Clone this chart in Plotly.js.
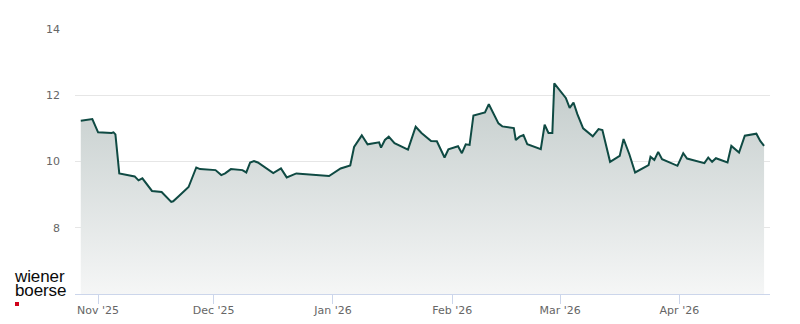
<!DOCTYPE html>
<html>
<head>
<meta charset="utf-8">
<script src="https://cdn.plot.ly/plotly-3.0.1.min.js"></script>
<style>
  html, body { margin: 0; padding: 0; background: #fff; }
  #wrap { position: relative; width: 800px; height: 324px; }
  #chart { width: 800px; height: 324px; }
  #logo { position: absolute; left: 15px; top: 270px; font-family: "Liberation Sans", Arial, sans-serif;
          font-size: 17px; line-height: 14px; color: #0a0a0a; letter-spacing: -0.1px; }
  #logo .sq { position: absolute; left: 0; top: 32px; width: 4px; height: 4px; background: #d0021b; }
</style>
</head>
<body>
<div id="wrap">
  <div id="chart"></div>
  <div id="logo">wiener<br>boerse<div class="sq"></div></div>
</div>
<script>
const dates = [
  "2025-10-27 12:00","2025-10-30 12:00","2025-11-01","2025-11-04 12:00","2025-11-05","2025-11-05 12:00",
  "2025-11-06 12:00","2025-11-10 12:00","2025-11-11 12:00","2025-11-12 12:00","2025-11-15","2025-11-17 12:00",
  "2025-11-20","2025-11-20 12:00","2025-11-22","2025-11-24 12:00","2025-11-26 12:00","2025-11-27 12:00",
  "2025-12-01 12:00","2025-12-03","2025-12-04","2025-12-05 12:00","2025-12-08 12:00","2025-12-09 12:00",
  "2025-12-10 12:00","2025-12-11 12:00","2025-12-12 12:00","2025-12-16 12:00","2025-12-18 12:00","2025-12-20",
  "2025-12-22 12:00","2025-12-31",
  "2026-01-03","2026-01-05 12:00","2026-01-06 12:00","2026-01-08 12:00","2026-01-10","2026-01-13",
  "2026-01-13 12:00","2026-01-14 12:00","2026-01-15 12:00","2026-01-17","2026-01-20 12:00","2026-01-22 12:00",
  "2026-01-24","2026-01-26 12:00","2026-01-28","2026-01-30","2026-01-31",
  "2026-02-02 12:00","2026-02-03 12:00","2026-02-04 12:00","2026-02-05 12:00","2026-02-06 12:00","2026-02-09 12:00",
  "2026-02-10 12:00","2026-02-13","2026-02-14","2026-02-17","2026-02-17 12:00","2026-02-18 12:00",
  "2026-02-19 12:00","2026-02-20 12:00","2026-02-24","2026-02-25","2026-02-26","2026-02-27","2026-02-27 12:00",
  "2026-03-02 12:00","2026-03-03 12:00","2026-03-04 12:00","2026-03-05 12:00","2026-03-07","2026-03-09 12:00",
  "2026-03-11","2026-03-12","2026-03-14","2026-03-16 12:00","2026-03-17 12:00","2026-03-19","2026-03-20 12:00",
  "2026-03-24","2026-03-24 12:00","2026-03-25 12:00","2026-03-26 12:00","2026-03-27 12:00","2026-03-31 12:00",
  "2026-04-02","2026-04-03","2026-04-07 12:00","2026-04-08 12:00","2026-04-09 12:00","2026-04-10 12:00",
  "2026-04-13 12:00","2026-04-14 12:00","2026-04-16 12:00","2026-04-18","2026-04-21","2026-04-22","2026-04-23"
];
const prices = [
  11.23,11.28,10.88,10.86,10.88,10.82,
  9.64,9.55,9.43,9.49,9.11,9.08,
  8.78,8.80,8.96,9.23,9.82,9.77,
  9.74,9.59,9.64,9.77,9.74,9.67,
  9.97,10.01,9.97,9.65,9.79,9.52,
  9.64,9.56,
  9.79,9.88,10.44,10.79,10.52,10.58,
  10.42,10.65,10.75,10.55,10.36,11.05,
  10.86,10.62,10.61,10.12,10.37,
  10.46,10.25,10.52,10.50,11.39,11.48,
  11.73,11.15,11.06,11.01,10.65,10.75,
  10.80,10.52,10.37,11.11,10.86,10.86,12.36,
  11.92,11.62,11.78,11.43,11.00,10.76,
  10.98,10.95,9.99,10.17,10.68,10.22,9.67,
  9.89,10.14,10.05,10.29,10.07,9.87,
  10.25,10.09,9.95,10.12,9.99,10.10,
  9.97,10.47,10.27,10.78,10.84,10.62,10.47
];
const yTicks = [8, 10, 12, 14];
const xRange = ["2025-10-26", "2026-04-24 13:00"];
const yRange = [6, 14];

const trace = {
  x: dates, y: prices, type: "scatter", mode: "lines",
  line: { color: "#0f4a43", width: 2, shape: "linear" },
  fill: "tozeroy",
  fillgradient: { type: "vertical", start: 6, stop: 12.4,
    colorscale: [[0, "#f5f6f6"], [1, "#c3cccb"]] },
  hoverinfo: "x+y"
};

const layout = {
  width: 800, height: 324,
  margin: { l: 75, r: 30, t: 29, b: 30 },
  paper_bgcolor: "#fff", plot_bgcolor: "#fff",
  showlegend: false,
  font: { family: "DejaVu Sans, sans-serif", size: 11, color: "#666666" },
  xaxis: {
    type: "date", range: xRange,
    tick0: "2025-11-01", dtick: "M1", tickformat: "%b '%y",
    ticks: "outside", ticklen: 9, tickwidth: 1, tickcolor: "#ccd6eb",
    ticklabelstandoff: -3,
    showline: true, linecolor: "#ccd6eb", linewidth: 1,
    showgrid: false, zeroline: false,
    tickfont: { family: "DejaVu Sans, sans-serif", size: 11, color: "#666666" }
  },
  yaxis: {
    range: yRange, tickvals: yTicks, ticktext: yTicks.map(String),
    showgrid: true, gridcolor: "#e6e6e6", gridwidth: 1,
    zeroline: false, showline: false, ticks: "",
    ticklabelstandoff: 14,
    tickfont: { family: "DejaVu Sans, sans-serif", size: 11, color: "#666666" }
  }
};
Plotly.newPlot("chart", [trace], layout, { displayModeBar: false, staticPlot: true });
</script>
</body>
</html>
